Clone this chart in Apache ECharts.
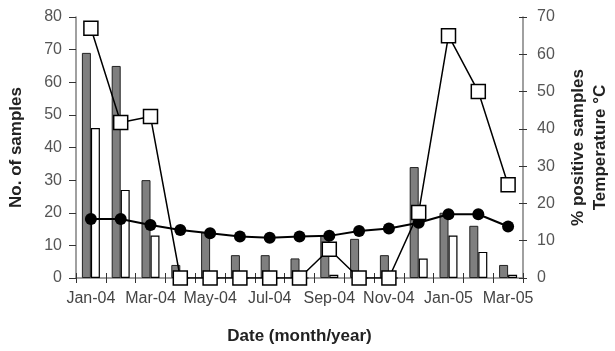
<!DOCTYPE html>
<html>
<head>
<meta charset="utf-8">
<script src="https://cdn.jsdelivr.net/npm/echarts@6/dist/echarts.min.js"></script>
<style>html,body{margin:0;padding:0;background:#fff;}#c{width:615px;height:351px;}</style>
</head>
<body>
<div id="c"></div>
<script>
var categories = ['Jan-04','Feb-04','Mar-04','Apr-04','May-04','Jun-04','Jul-04','Aug-04','Sep-04','Oct-04','Nov-04','Dec-04','Jan-05','Feb-05','Mar-05'];
var samples = [69,65,30,4,14,7,7,6,13,12,7,34,20,16,4];
var positives = [46,27,13,0,0,0,0,0,1,0,0,6,13,8,1];
var pctPositive = [67,41.7,43.3,0,0,0,0,0,7.7,0,0,17.6,65,50,25];
var temperature = [15.8,15.8,14.2,12.9,12,11.1,10.8,11.1,11.3,12.6,13.3,14.8,17.1,17.1,13.8];
var leftTicks = [0,80,10];
var rightTicks = [0,70,10];

var font = 'Liberation Sans, Arial, sans-serif';
var axisGray = '#808080';
var chart = echarts.init(document.getElementById('c'));
chart.setOption({
  animation: false,
  textStyle: {fontFamily: font},
  grid: {left: 76, right: 92, top: 17, bottom: 73, containLabel: false, outerBoundsMode: 'none'},
  xAxis: [{
    type: 'category', data: categories, boundaryGap: true,
    axisLine: {lineStyle: {color: axisGray, width: 1.5}},
    axisTick: {show: true, interval: 0, length: 5, inside: false, lineStyle: {color: '#333'}},
    axisLabel: {interval: 1, color: '#444', fontSize: 16, fontFamily: font, margin: 13},
    name: 'Date (month/year)', nameLocation: 'middle', nameGap: 50,
    nameTextStyle: {fontSize: 17, fontWeight: 'bold', color: '#222', fontFamily: font}
  }, {
    type: 'category', data: categories, boundaryGap: true, position: 'bottom',
    axisLine: {show: false},
    axisTick: {show: true, interval: 0, length: 5, inside: true, lineStyle: {color: '#333'}},
    axisLabel: {show: false}
  }],
  yAxis: [{
    type: 'value', min: leftTicks[0], max: leftTicks[1], interval: leftTicks[2],
    axisLine: {show: true, lineStyle: {color: axisGray, width: 1.5}},
    axisTick: {show: true, length: 7, lineStyle: {color: '#333'}},
    splitLine: {show: false},
    axisLabel: {color: '#555', fontSize: 16, fontFamily: font, margin: 14},
    name: 'No. of samples', nameLocation: 'middle', nameGap: 51, nameRotate: 90,
    nameTextStyle: {fontSize: 17, fontWeight: 'bold', color: '#222', fontFamily: font}
  }, {
    type: 'value', min: rightTicks[0], max: rightTicks[1], interval: rightTicks[2], position: 'right',
    axisLine: {show: true, lineStyle: {color: axisGray, width: 1.5}},
    axisTick: {show: true, length: 4, lineStyle: {color: '#333'}},
    splitLine: {show: false},
    axisLabel: {color: '#555', fontSize: 16, fontFamily: font, margin: 14},
    name: '% positive samples\nTemperature °C', nameLocation: 'middle', nameGap: 44, nameRotate: 90,
    nameTextStyle: {fontSize: 17, fontWeight: 'bold', color: '#222', fontFamily: font, lineHeight: 22, align: 'center'}
  }, {
    type: 'value', min: rightTicks[0], max: rightTicks[1], interval: rightTicks[2], position: 'right',
    axisLine: {show: false},
    axisTick: {show: true, inside: true, length: 4, lineStyle: {color: '#333'}},
    axisLabel: {show: false}, splitLine: {show: false}
  }],
  series: [{
    name: 'Samples', type: 'bar', data: samples, yAxisIndex: 0, barWidth: 9, barGap: '0%',
    itemStyle: {color: '#7f7f7f', borderColor: '#222', borderWidth: 1}
  }, {
    name: 'Positive', type: 'bar', data: positives, yAxisIndex: 0, barWidth: 9, barGap: '0%',
    itemStyle: {color: '#ffffff', borderColor: '#000', borderWidth: 1.2}
  }, {
    name: 'Temperature', type: 'line', data: temperature, yAxisIndex: 1,
    symbol: 'circle', symbolSize: 12, z: 3,
    lineStyle: {color: '#000', width: 2}, itemStyle: {color: '#000'}
  }, {
    name: '% positive', type: 'line', data: pctPositive, yAxisIndex: 1,
    symbol: 'rect', symbolSize: 14, z: 4,
    lineStyle: {color: '#000', width: 1.5}, itemStyle: {color: '#fff', borderColor: '#000', borderWidth: 1.5}
  }]
});
</script>
</body>
</html>
